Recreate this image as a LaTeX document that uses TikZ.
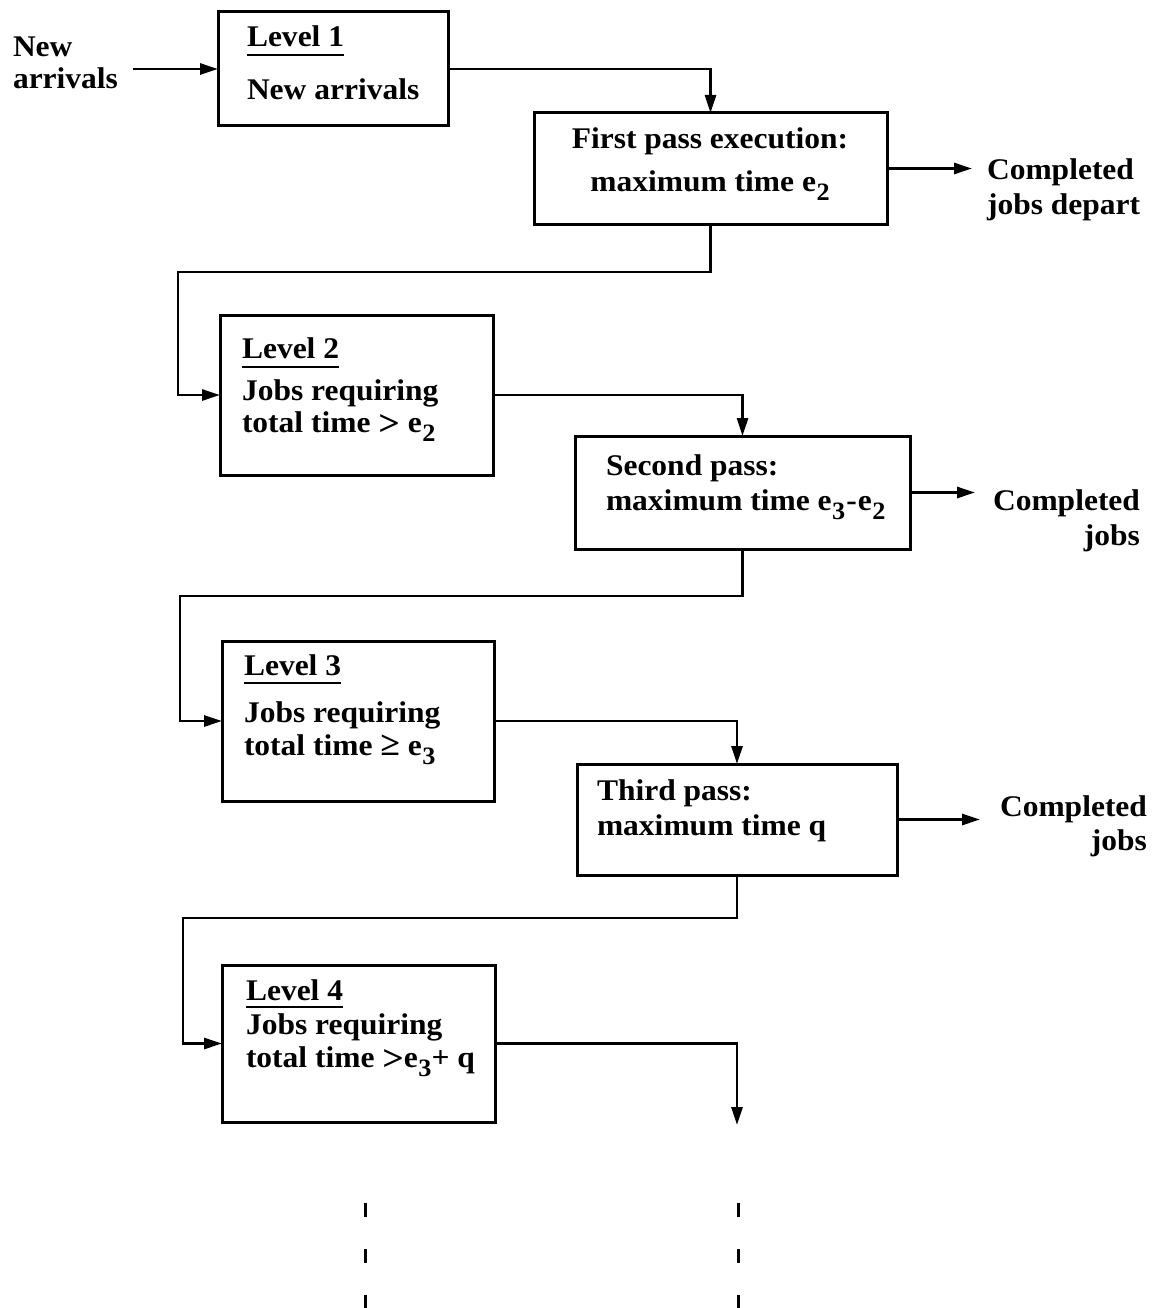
\documentclass[tikz,border=0pt]{standalone}
\usepackage{fontspec}
\setmainfont{Liberation Serif}[FakeStretch=1.05]
\usetikzlibrary{arrows.meta}
% lowered, nearly full-size index digit
\newcommand\dn[1]{\kern0.5pt\raisebox{-9pt}{\fontsize{25}{25}\selectfont #1}}
% broad comparison sign
\newcommand\gtr{\raisebox{-3pt}{\fontsize{36}{36}\selectfont >}}
\begin{document}
\begin{tikzpicture}[x=1pt,y=-1pt,
  every node/.style={inner sep=0pt, outer sep=0pt},
  txt/.style={font=\fontsize{30}{36}\selectfont\bfseries, anchor=base west},
  box/.style={draw, line width=3pt, anchor=north west},
  conn/.style={line width=2.8pt},
  arr/.style={conn, -{Triangle[length=18pt,width=11pt]}},
  uline/.style={line width=2pt},
  gap/.style={line width=3pt, dash pattern=on 14pt off 32pt}]

\useasboundingbox[fill=white] (0,0) rectangle (1155,1308);

% ---- entry ----
\node[txt] (nw1) at (13,57) {New};
\node[txt] (nw2) at (13,89) {arrivals};

% ---- level 1 ----
\node[box, minimum width=230pt, minimum height=114pt] (L1) at (218,12) {};
\node[txt] (L1a) at (247,47) {Level 1};
\node[txt] (L1b) at (247,100) {New arrivals};
\draw[uline] ([yshift=-8pt]L1a.base west) -- ([yshift=-8pt]L1a.base east);

% ---- first pass ----
\node[box, minimum width=353pt, minimum height=111pt] (P1) at (534,113) {};
\node[txt, anchor=base] (P1a) at (710,149) {First pass execution:};
\node[txt, anchor=base] (P1b) at (710,192) {maximum time e\dn{2}};
\node[txt] (O1a) at (987,180) {Completed};
\node[txt] (O1b) at (987,214) {jobs depart};

% ---- level 2 ----
\node[box, minimum width=273pt, minimum height=160pt] (L2) at (220,315) {};
\node[txt] (L2a) at (242,358) {Level 2};
\node[txt] (L2b) at (242,400) {Jobs requiring};
\node[txt] (L2c) at (242,432) {total time \gtr\ e\dn{2}};
\draw[uline] ([yshift=-9pt]L2a.base west) -- ([yshift=-9pt]L2a.base east);

% ---- second pass ----
\node[box, minimum width=335pt, minimum height=113pt] (P2) at (575,436) {};
\node[txt] (P2a) at (606,475) {Second pass:};
\node[txt] (P2b) at (606,510) {maximum time e\dn{3}\kern1pt-\kern1pt e\dn{2}};
\node[txt] (O2a) at (993,510) {Completed};
\node[txt, anchor=base east] (O2b) at ([yshift=-35pt]O2a.base east) {jobs};

% ---- level 3 ----
\node[box, minimum width=272pt, minimum height=160pt] (L3) at (222,641) {};
\node[txt] (L3a) at (244,675) {Level 3};
\node[txt] (L3b) at (244,722) {Jobs requiring};
\node[txt] (L3c) at (244,755) {total time {\fontsize{34}{34}\selectfont ≥}\ e\dn{3}};
\draw[uline] ([yshift=-8pt]L3a.base west) -- ([yshift=-8pt]L3a.base east);

% ---- third pass ----
\node[box, minimum width=320pt, minimum height=111pt] (P3) at (577,764) {};
\node[txt] (P3a) at (597,800) {Third pass:};
\node[txt] (P3b) at (597,835) {maximum time q};
\node[txt] (O3a) at (1000,816) {Completed};
\node[txt, anchor=base east] (O3b) at ([yshift=-34pt]O3a.base east) {jobs};

% ---- level 4 ----
\node[box, minimum width=273pt, minimum height=157pt] (L4) at (222,965) {};
\node[txt] (L4a) at (246,1000) {Level 4};
\node[txt] (L4b) at (246,1034) {Jobs requiring};
\node[txt] (L4c) at (246,1067) {total time \gtr e\dn{3}+ q};
\draw[uline] ([yshift=-7pt]L4a.base west) -- ([yshift=-7pt]L4a.base east);

% ---- routing points ----
\coordinate (k1) at (178,272);
\coordinate (k2) at (180,596);
\coordinate (k3) at (183,918);
\coordinate (e4) at (737,1125);
\coordinate (d1) at (365,1203);
\coordinate (d1e) at (365,1308);
\coordinate (d2) at (738,1203);
\coordinate (d2e) at (738,1308);

% ---- connectors ----
\draw[arr] ([xshift=15pt]nw2.east |- L1.west) -- (L1.west);
\draw[arr] (L1.east) -| (P1.north);
\draw[arr] (P1.east) -- ([xshift=-15pt]O1a.west |- P1.east);
\draw[arr] (P1.south) |- (k1) |- (L2.west);
\draw[arr] (L2.east) -| (P2.north);
\draw[arr] (P2.east) -- ([xshift=-18pt]O2a.west |- P2.east);
\draw[arr] (P2.south) |- (k2) |- (L3.west);
\draw[arr] (L3.east) -| (P3.north);
\draw[arr] (P3.east) -- ([xshift=-20pt]O3a.west |- P3.east);
\draw[arr] (P3.south) |- (k3) |- (L4.west);
\draw[arr] (L4.east) -| (e4);

% ---- continuation marks ----
\draw[gap] (d1) -- (d1e);
\draw[gap] (d2) -- (d2e);
\end{tikzpicture}
\end{document}
